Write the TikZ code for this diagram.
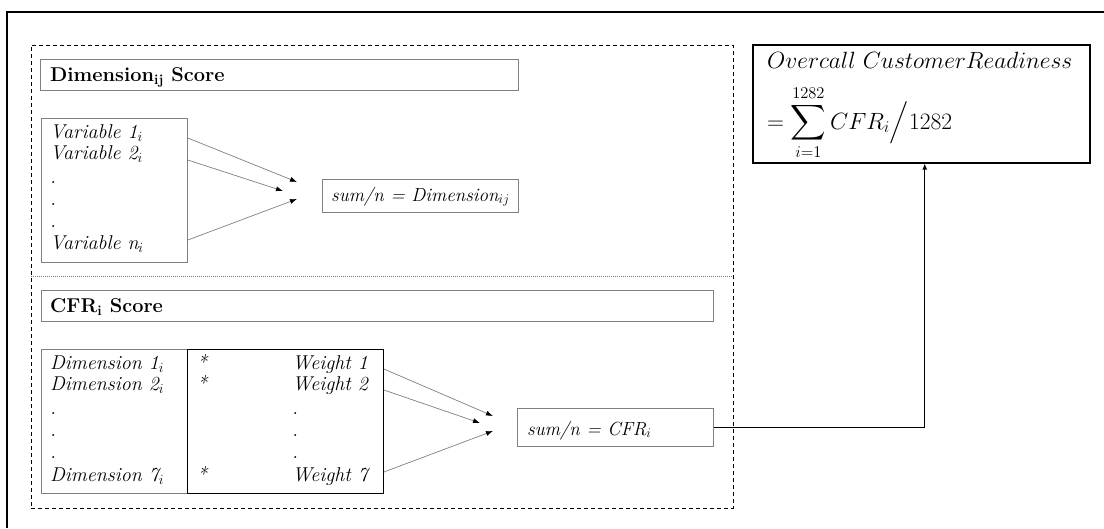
\RequirePackage{fix-cm}
\documentclass[tikz,border=0pt]{standalone}
\usepackage{amsmath}
\usetikzlibrary{arrows.meta}
% scalable large math symbols
\DeclareFontFamily{OMX}{cmex}{}
\DeclareFontShape{OMX}{cmex}{m}{n}{<->cmex10}{}
\begin{document}
\begin{tikzpicture}[x=1pt,y=-1pt,
  gbox/.style={draw=black!50,line width=0.8pt,rectangle,inner sep=0pt,anchor=north west},
  kbox/.style={draw=black,line width=0.9pt,rectangle,inner sep=0pt,anchor=north west},
  obox/.style={draw=black,line width=1.5pt,rectangle,inner sep=0pt,anchor=north west},
  dashbox/.style={draw=black,line width=0.8pt,dash pattern=on 4pt off 3pt,rectangle,inner sep=0pt,anchor=north west},
  divider/.style={draw=black!55,line width=0.6pt,dash pattern=on 1pt off 1pt},
  itxt/.style={font=\fontsize{20}{23}\selectfont\itshape,inner sep=0pt,anchor=base west},
  stxt/.style={font=\fontsize{19}{22}\selectfont\itshape,inner sep=0pt,anchor=base west},
  wtxt/.style={itxt,anchor=base east},
  htxt/.style={font=\fontsize{20}{23}\selectfont\bfseries,inner sep=0pt,anchor=base west},
  mtxt/.style={font=\fontsize{23.5}{27}\selectfont,inner sep=0pt,anchor=base west},
  arr/.style={draw=black!50,line width=0.7pt,-{Latex[length=7pt,width=5pt,color=black]}},
  conn/.style={draw=black,line width=1.4pt,-{Latex[length=6pt,width=5pt]}}]

\useasboundingbox (0,0) rectangle (1104,528);
\fill[white] (0,0) rectangle (1104,528);

% page frame (left and top edges)
\draw[line width=1.5pt] (7,528) -- (7,12) -- (1104,12);

% dashed container of the two scoring stages
\node[dashbox,minimum width=702pt,minimum height=463pt] (stages) at (31,45) {};
\coordinate (divL) at (31,276);
\coordinate (divR) at (733,276);
\draw[divider] (divL) -- (divR);

% ---------- Dimension score ----------
\node[gbox,minimum width=478pt,minimum height=31pt] (dimhead) at (40,59) {};
\node[htxt] (dimheadtxt) at (50,81) {Dimension\textsubscript{ij} Score};

\node[gbox,minimum width=146pt,minimum height=144pt] (varbox) at (41,118) {};
\node[itxt] (var1) at (50,138) {Variable 1$_i$};
\node[itxt] (var2) at (50,159) {Variable 2$_i$};
\node[itxt] (vdot1) at (50,183) {.};
\node[itxt] (vdot2) at (50,205) {.};
\node[itxt] (vdot3) at (50,227) {.};
\node[itxt] (varn) at (50,249) {Variable n$_i$};

\node[gbox,minimum width=196pt,minimum height=33pt] (dimsum) at (322,179) {};
\node[stxt] (dimsumtxt) at (331,201) {sum/n = Dimension$_{ij}$};

\coordinate (dt1) at (297,182);
\coordinate (dt2) at (283,191);
\coordinate (dt3) at (297,199);
\draw[arr] ([yshift=-20pt]varbox.north east) -- (dt1);
\draw[arr] ([yshift=-42pt]varbox.north east) -- (dt2);
\draw[arr] ([yshift=-122pt]varbox.north east) -- (dt3);

% ---------- CFR score ----------
\node[gbox,minimum width=672pt,minimum height=31pt] (cfrhead) at (41,290) {};
\node[htxt] (cfrheadtxt) at (50,312) {CFR\textsubscript{i} Score};

\node[gbox,minimum width=146pt,minimum height=144pt] (dimbox) at (41,349) {};
\node[kbox,minimum width=196pt,minimum height=144pt] (wbox) at (187,349) {};

\node[itxt] (dim1) at (50,369) {Dimension 1$_i$};
\node[itxt] (dim2) at (50,390) {Dimension 2$_i$};
\node[itxt] (ddot1) at (50,414) {.};
\node[itxt] (ddot2) at (50,436) {.};
\node[itxt] (ddot3) at (50,458) {.};
\node[itxt] (dim7) at (50,481) {Dimension 7$_i$};

\node[itxt] (ast1) at (197,369) {*};
\node[itxt] (ast2) at (197,390) {*};
\node[itxt] (ast7) at (197,481) {*};
\node[wtxt] (w1) at (368,369) {Weight 1};
\node[wtxt] (w2) at (368,390) {Weight 2};
\node[itxt] (wdot1) at (292,414) {.};
\node[itxt] (wdot2) at (292,436) {.};
\node[itxt] (wdot3) at (292,458) {.};
\node[wtxt] (w7) at (368,481) {Weight 7};

\node[gbox,minimum width=196pt,minimum height=38pt] (cfrsum) at (517,408) {};
\node[stxt] (cfrsumtxt) at (527,435) {sum/n = CFR$_i$};

\coordinate (ct1) at (493,416);
\coordinate (ct2) at (480,423);
\coordinate (ct3) at (493,431);
\draw[arr] ([yshift=-20pt]wbox.north east) -- (ct1);
\draw[arr] ([yshift=-41pt]wbox.north east) -- (ct2);
\draw[arr] ([yshift=-123pt]wbox.north east) -- (ct3);

% ---------- overall readiness ----------
\node[obox,minimum width=337pt,minimum height=118pt] (overall) at (752,44) {};
\node[mtxt] (overalltxt) at (767,68) {$Overcall\ CustomerReadiness$};
\node[mtxt] (overallfml) at (767,129)
  {$\displaystyle = \mathop{\vcenter{\hbox{\scalebox{1.05}{$\displaystyle\sum$}}}}\limits_{i=1}^{1282} CFR_i\Big/1282$};

\draw[conn] (cfrsum.east) -| ([xshift=3.5pt]overall.south);
\end{tikzpicture}
\end{document}
